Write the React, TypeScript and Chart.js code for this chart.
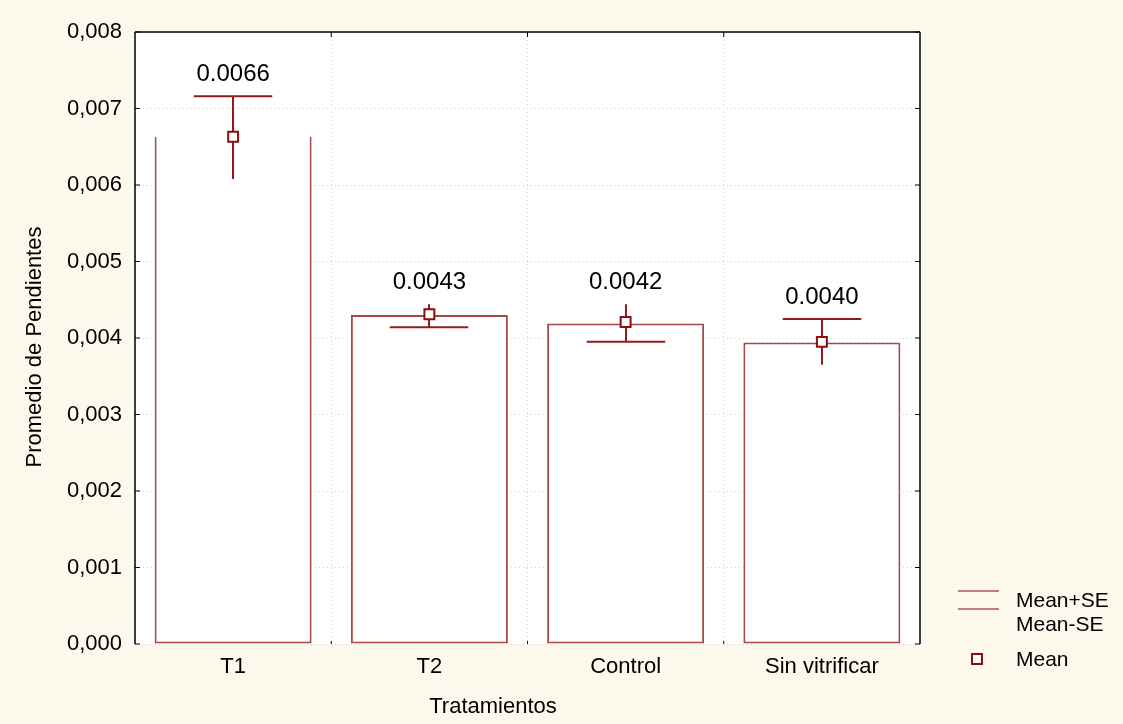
import React, { useEffect, useRef } from 'react';
import { Chart, registerables } from 'chart.js';

Chart.register(...registerables);

// ---- data ----
const categories = ['T1', 'T2', 'Control', 'Sin vitrificar'];
const means = [0.00663, 0.00431, 0.00421, 0.00395];
const barValues = [0.00663, 0.0043, 0.00419, 0.00394];
const upperSE = [0.00716, 0.00444, 0.00444, 0.00425];
const lowerSE = [0.00608, 0.00414, 0.00395, 0.00365];
const capSide = ['upper', 'lower', 'lower', 'upper'];
const valueLabels = ['0.0066', '0.0043', '0.0042', '0.0040'];
const yTickLabels = ['0,000', '0,001', '0,002', '0,003', '0,004', '0,005', '0,006', '0,007', '0,008'];
const legendLabels = ['Mean+SE', 'Mean-SE', 'Mean'];
const xTitle = 'Tratamientos';
const yTitle = 'Promedio de Pendientes';

// ---- styles ----
const W = 1123;
const H = 724;
const BG = '#fcf9ec';
const FONT = '"Liberation Sans", Arial, sans-serif';
const BAR_RED = '#a94848';
const ERR_RED = '#921c1c';
const MARK_RED = '#8b0d0d';
const LEG_RED = '#b25555';
const GRID = '#d2d2d2';

function drawText(ctx: CanvasRenderingContext2D, text: string, x: number, y: number, size: number, align: CanvasTextAlign, rot = 0) {
  ctx.save();
  ctx.font = `${size}px ${FONT}`;
  ctx.fillStyle = '#000';
  ctx.textBaseline = 'middle';
  ctx.textAlign = align;
  ctx.translate(x, y);
  if (rot) ctx.rotate(rot);
  ctx.fillText(text, 0, 0);
  ctx.restore();
}

function line(ctx: CanvasRenderingContext2D, x1: number, y1: number, x2: number, y2: number) {
  ctx.beginPath();
  ctx.moveTo(x1, y1);
  ctx.lineTo(x2, y2);
  ctx.stroke();
}

const bgPlugin = {
  id: 'bgPlugin',
  beforeDraw(chart: any) {
    const { ctx, chartArea: a } = chart;
    ctx.save();
    ctx.fillStyle = BG;
    ctx.fillRect(0, 0, chart.width, chart.height);
    ctx.fillStyle = '#ffffff';
    ctx.fillRect(a.left, a.top, a.right - a.left, a.bottom - a.top);
    ctx.restore();
  },
};

const errorPlugin = {
  id: 'errorPlugin',
  afterDatasetDraw(chart: any, args: any) {
    if (args.index !== 0) return;
    const { ctx } = chart;
    const y = chart.scales.y;
    ctx.save();
    ctx.strokeStyle = ERR_RED;
    ctx.lineWidth = 2;
    args.meta.data.forEach((bar: any, i: number) => {
      const x = Math.round(bar.x);
      const hw = bar.width / 4;
      const yu = y.getPixelForValue(upperSE[i]);
      const yl = y.getPixelForValue(lowerSE[i]);
      line(ctx, x, yu, x, yl);
      const yc = capSide[i] === 'upper' ? yu : yl;
      line(ctx, x - hw, yc, x + hw, yc);
    });
    ctx.restore();
  },
};

const decoPlugin = {
  id: 'decoPlugin',
  afterDraw(chart: any) {
    const { ctx, chartArea: a } = chart;
    const y = chart.scales.y;
    const xs = chart.scales.x;
    // frame
    ctx.save();
    ctx.strokeStyle = '#000';
    ctx.lineWidth = 1.5;
    line(ctx, a.left, a.top, a.left, a.bottom);
    line(ctx, a.left, a.top, a.right, a.top);
    line(ctx, a.right, a.top, a.right, a.bottom);
    ctx.lineWidth = 1;
    y.ticks.forEach((t: any) => {
      const py = y.getPixelForValue(t.value);
      line(ctx, a.right, py, a.right - 5, py);
      line(ctx, a.left, py, a.left + 5, py);
    });
    for (let i = 1; i < categories.length; i++) {
      const px = (xs.getPixelForValue(i - 1) + xs.getPixelForValue(i)) / 2;
      line(ctx, px, a.top, px, a.top + 5);
      line(ctx, px, a.bottom, px, a.bottom - 3);
    }
    ctx.restore();

    // value labels
    const meta = chart.getDatasetMeta(0);
    meta.data.forEach((bar: any, i: number) => {
      drawText(ctx, valueLabels[i], bar.x, y.getPixelForValue(upperSE[i]) - 22, 24, 'center');
    });

    // axis titles
    drawText(ctx, xTitle, 493, 707, 22, 'center');
    drawText(ctx, yTitle, 35, 347, 22, 'center', -Math.PI / 2);

    // legend
    const lx = a.right + 38;
    ctx.save();
    ctx.strokeStyle = LEG_RED;
    ctx.lineWidth = 1.5;
    line(ctx, lx, 591, lx + 41, 591);
    line(ctx, lx, 609, lx + 41, 609);
    ctx.fillStyle = '#fff';
    ctx.strokeStyle = MARK_RED;
    ctx.lineWidth = 2;
    ctx.fillRect(lx + 14, 654, 10, 10);
    ctx.strokeRect(lx + 14, 654, 10, 10);
    ctx.restore();
    drawText(ctx, legendLabels[0], lx + 58, 601, 21, 'left');
    drawText(ctx, legendLabels[1], lx + 58, 625, 21, 'left');
    drawText(ctx, legendLabels[2], lx + 58, 660, 21, 'left');
  },
};

export default function App() {
  const ref = useRef<HTMLCanvasElement | null>(null);

  useEffect(() => {
    if (!ref.current) return;
    const chart = new Chart(ref.current, {
      type: 'bar',
      data: {
        labels: categories,
        datasets: [
          {
            type: 'bar',
            label: 'Bars',
            data: barValues,
            backgroundColor: '#ffffff',
            borderColor: BAR_RED,
            borderWidth: 2,
            borderSkipped: ((c: any) => (c.dataIndex === 0 ? 'top' : false)) as any,
            barPercentage: 0.8,
            categoryPercentage: 1.0,
            order: 2,
          },
          {
            type: 'line',
            label: legendLabels[2],
            data: means,
            showLine: false,
            pointStyle: 'rect',
            pointRadius: 7,
            pointBackgroundColor: '#ffffff',
            pointBorderColor: MARK_RED,
            pointBorderWidth: 2,
            order: 1,
          } as any,
        ],
      },
      options: {
        animation: false,
        responsive: false,
        devicePixelRatio: 1,
        layout: { padding: { top: 32, right: 203, left: 0, bottom: 0 } },
        plugins: {
          legend: { display: false },
          tooltip: { enabled: false },
        },
        scales: {
          x: {
            offset: true,
            grid: { offset: true, color: GRID, lineWidth: 1, drawTicks: false },
            border: { display: false, dash: [1, 3] },
            ticks: { color: '#000', font: { family: FONT, size: 22 }, padding: 10 },
            afterFit(s: any) {
              s.height = 80;
            },
          },
          y: {
            min: 0,
            max: 0.008,
            grid: { color: GRID, lineWidth: 1, drawTicks: false },
            border: { display: false, dash: [1, 3] },
            ticks: {
              stepSize: 0.001,
              color: '#000',
              font: { family: FONT, size: 22 },
              padding: 13,
              callback: (_v: any, i: number) => yTickLabels[i],
            },
            afterFit(s: any) {
              s.width = 135;
            },
          },
        },
      },
      plugins: [bgPlugin, errorPlugin, decoPlugin],
    });
    return () => chart.destroy();
  }, []);

  return (
    <div style={{ position: 'absolute', left: 0, top: 0, width: W, height: H, background: BG }}>
      <canvas ref={ref} width={W} height={H} style={{ display: 'block', width: W, height: H }} />
    </div>
  );
}
